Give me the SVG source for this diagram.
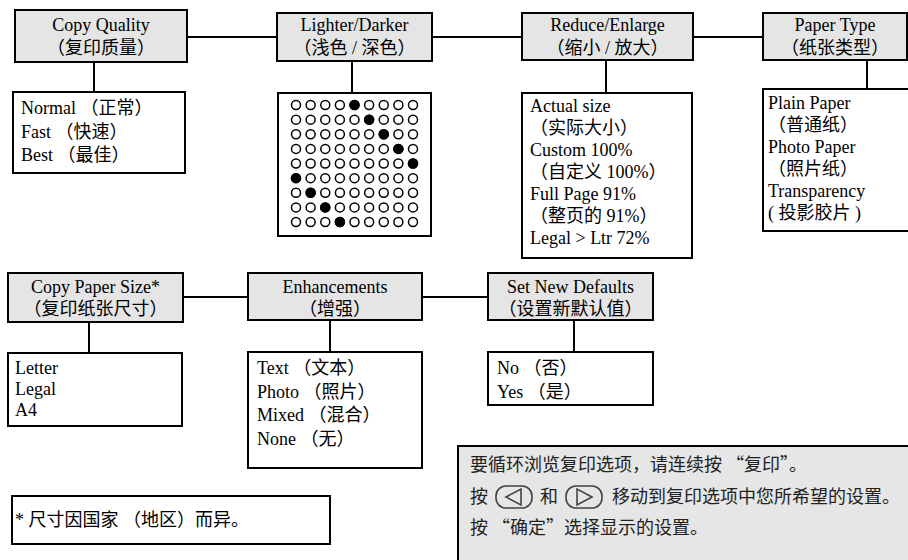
<svg xmlns="http://www.w3.org/2000/svg" xmlns:xlink="http://www.w3.org/1999/xlink" width="908" height="560" viewBox="0 0 908 560">
<style>
.hdr{fill:#e5e5e5;stroke:#000;stroke-width:2}
.box{fill:#fff;stroke:#000;stroke-width:2}
.t{font-family:'Liberation Serif','Noto Sans CJK SC',serif;font-size:18px;fill:#000}
.c{text-anchor:middle}
.cj{font-family:'Noto Sans CJK SC',sans-serif;font-size:18px;fill:#222}
.conn line{stroke:#000;stroke-width:2}
.od{fill:#fff;stroke:#000;stroke-width:1.5}
.fd{fill:#000}
.icon{fill:none;stroke:#444;stroke-width:1.6}
</style>
<defs>
<g id="row">
<circle class="od" cx="0" cy="0" r="4.5"/>
<circle class="od" cx="14.625" cy="0" r="4.5"/>
<circle class="od" cx="29.25" cy="0" r="4.5"/>
<circle class="od" cx="43.875" cy="0" r="4.5"/>
<circle class="od" cx="58.5" cy="0" r="4.5"/>
<circle class="od" cx="73.125" cy="0" r="4.5"/>
<circle class="od" cx="87.75" cy="0" r="4.5"/>
<circle class="od" cx="102.375" cy="0" r="4.5"/>
<circle class="od" cx="117" cy="0" r="4.5"/>
</g>
</defs>
<rect width="908" height="560" fill="#fff"/>

<g id="connectors" class="conn">
<line x1="187" y1="37" x2="277" y2="37"/>
<line x1="432" y1="37" x2="522" y2="37"/>
<line x1="693" y1="37" x2="763" y2="37"/>
<line x1="94" y1="62" x2="94" y2="92"/>
<line x1="352" y1="61" x2="352" y2="93"/>
<line x1="606" y1="60" x2="606" y2="93"/>
<line x1="867" y1="60" x2="867" y2="89"/>
<line x1="183" y1="297" x2="248" y2="297"/>
<line x1="422" y1="297" x2="488" y2="297"/>
<line x1="89" y1="322" x2="89" y2="353"/>
<line x1="330" y1="320" x2="330" y2="352"/>
<line x1="574" y1="320" x2="574" y2="352"/>
</g>

<g id="copy-quality">
<rect class="hdr" x="15" y="10" width="172" height="52"/>
<text class="t c" x="101" y="31">Copy Quality</text>
<text class="t c" x="101" y="54">（复印质量）</text>
</g>
<g id="copy-quality-options">
<rect class="box" x="13" y="92" width="172" height="81"/>
<text class="t" x="21" y="114">Normal （正常）</text>
<text class="t" x="21" y="138">Fast （快速）</text>
<text class="t" x="21" y="161">Best （最佳）</text>
</g>

<g id="lighter-darker">
<rect class="hdr" x="277" y="13" width="155" height="48"/>
<text class="t c" x="354.5" y="31">Lighter/Darker</text>
<text class="t c" x="354.5" y="54">（浅色 / 深色）</text>
</g>
<g id="lighter-darker-options">
<rect class="box" x="278" y="93" width="153" height="143"/>
<use xlink:href="#row" href="#row" x="296" y="105"/>
<use xlink:href="#row" href="#row" x="296" y="119.625"/>
<use xlink:href="#row" href="#row" x="296" y="134.25"/>
<use xlink:href="#row" href="#row" x="296" y="148.875"/>
<use xlink:href="#row" href="#row" x="296" y="163.5"/>
<use xlink:href="#row" href="#row" x="296" y="178.125"/>
<use xlink:href="#row" href="#row" x="296" y="192.75"/>
<use xlink:href="#row" href="#row" x="296" y="207.375"/>
<use xlink:href="#row" href="#row" x="296" y="222"/>
<circle class="fd" cx="354.5" cy="105" r="5.2"/>
<circle class="fd" cx="369.125" cy="119.625" r="5.2"/>
<circle class="fd" cx="383.75" cy="134.25" r="5.2"/>
<circle class="fd" cx="398.375" cy="148.875" r="5.2"/>
<circle class="fd" cx="413" cy="163.5" r="5.2"/>
<circle class="fd" cx="296" cy="178.125" r="5.2"/>
<circle class="fd" cx="310.625" cy="192.75" r="5.2"/>
<circle class="fd" cx="325.25" cy="207.375" r="5.2"/>
<circle class="fd" cx="339.875" cy="222" r="5.2"/>
</g>

<g id="reduce-enlarge">
<rect class="hdr" x="522" y="13" width="171" height="47"/>
<text class="t c" x="607.5" y="31">Reduce/Enlarge</text>
<text class="t c" x="607.5" y="54">（缩小 / 放大）</text>
</g>
<g id="reduce-enlarge-options">
<rect class="box" x="522" y="93" width="170" height="165"/>
<text class="t" x="530" y="112">Actual size</text>
<text class="t" x="530" y="134">（实际大小）</text>
<text class="t" x="530" y="156">Custom 100%</text>
<text class="t" x="530" y="178">（自定义 100%）</text>
<text class="t" x="530" y="200">Full Page 91%</text>
<text class="t" x="530" y="222">（整页的 91%）</text>
<text class="t" x="530" y="244">Legal &gt; Ltr 72%</text>
</g>

<g id="paper-type">
<rect class="hdr" x="763" y="13" width="144" height="47"/>
<text class="t c" x="835" y="31">Paper Type</text>
<text class="t c" x="835" y="54">（纸张类型）</text>
</g>
<g id="paper-type-options">
<rect class="box" x="763" y="89" width="160" height="142"/>
<text class="t" x="768" y="109">Plain Paper</text>
<text class="t" x="768" y="131">（普通纸）</text>
<text class="t" x="768" y="153">Photo Paper</text>
<text class="t" x="768" y="175">（照片纸）</text>
<text class="t" x="768" y="197">Transparency</text>
<text class="t" x="768" y="219">( 投影胶片 )</text>
</g>

<g id="copy-paper-size">
<rect class="hdr" x="8" y="273" width="175" height="49"/>
<text class="t c" x="95.5" y="293">Copy Paper Size*</text>
<text class="t c" x="95.5" y="315">（复印纸张尺寸）</text>
</g>
<g id="copy-paper-size-options">
<rect class="box" x="8" y="353" width="174" height="73"/>
<text class="t" x="15" y="374">Letter</text>
<text class="t" x="15" y="395">Legal</text>
<text class="t" x="15" y="416">A4</text>
</g>

<g id="enhancements">
<rect class="hdr" x="248" y="273" width="174" height="47"/>
<text class="t c" x="335" y="293">Enhancements</text>
<text class="t c" x="335" y="315">（增强）</text>
</g>
<g id="enhancements-options">
<rect class="box" x="248" y="352" width="174" height="116"/>
<text class="t" x="257" y="374">Text （文本）</text>
<text class="t" x="257" y="398">Photo （照片）</text>
<text class="t" x="257" y="421">Mixed （混合）</text>
<text class="t" x="257" y="445">None （无）</text>
</g>

<g id="set-new-defaults">
<rect class="hdr" x="488" y="273" width="165" height="47"/>
<text class="t c" x="570.5" y="293">Set New Defaults</text>
<text class="t c" x="570.5" y="315">（设置新默认值）</text>
</g>
<g id="set-new-defaults-options">
<rect class="box" x="488" y="352" width="165" height="53"/>
<text class="t" x="497" y="374">No （否）</text>
<text class="t" x="497" y="398">Yes （是）</text>
</g>

<g id="footnote">
<rect class="box" x="12" y="496" width="318" height="48"/>
<text class="t" x="15" y="526">* 尺寸因国家 （地区）而异。</text>
</g>

<g id="instructions">
<rect x="458" y="446" width="470" height="130" fill="#e6e6e6" stroke="#000" stroke-width="2"/>
<text class="cj" x="470" y="471">要循环浏览复印选项，请连续按 “复印”。</text>
<text class="cj" x="470" y="503">按</text>
<rect class="icon" x="496" y="486" width="36" height="22" rx="10"/>
<polygon class="icon" points="506,497 521,489 521,505"/>
<text class="cj" x="540" y="503">和</text>
<rect class="icon" x="566" y="486" width="36" height="22" rx="10"/>
<polygon class="icon" points="592,497 577,489 577,505"/>
<text class="cj" x="612" y="503">移动到复印选项中您所希望的设置。</text>
<text class="cj" x="470" y="534">按 “确定”选择显示的设置。</text>
</g>
</svg>
